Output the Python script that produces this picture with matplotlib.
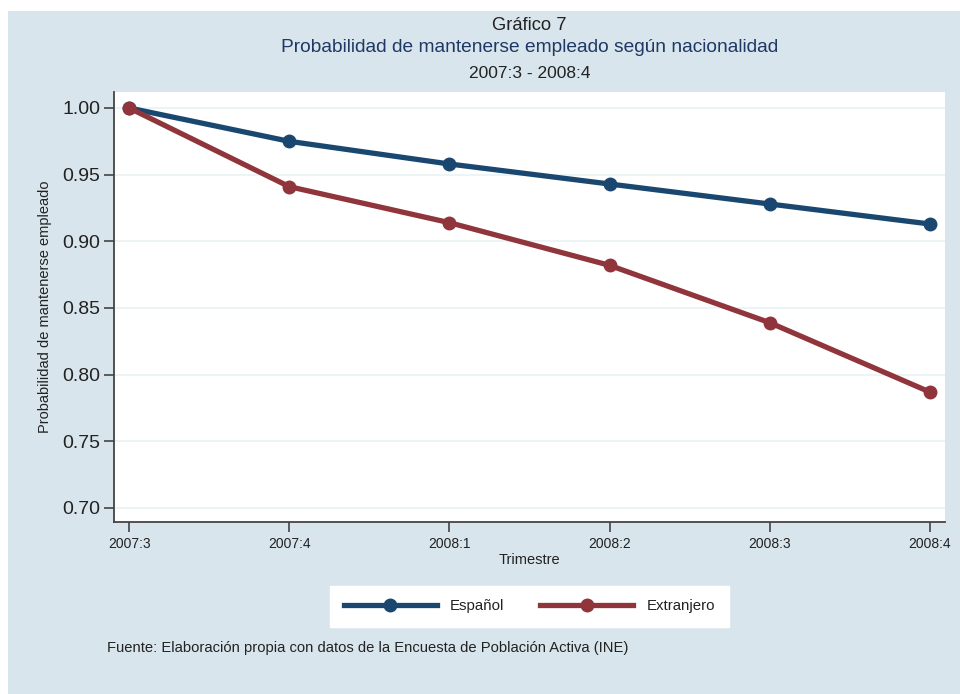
import matplotlib.pyplot as plt
from matplotlib.patches import Rectangle

# Data
trimestres = ["2007:3", "2007:4", "2008:1", "2008:2", "2008:3", "2008:4"]
espanol = [1.000, 0.975, 0.958, 0.943, 0.928, 0.913]
extranjero = [1.000, 0.941, 0.914, 0.882, 0.839, 0.787]

azul = "#1a476f"
rojo = "#90353b"
fondo = "#d9e5ec"
texto = "#222222"

plt.rcParams["font.family"] = ["Liberation Sans", "DejaVu Sans"]

fig = plt.figure(figsize=(9.6, 6.94), dpi=100)
fig.patch.set_facecolor("white")
# light blue panel (leaves a thin white margin top/left)
fig.patches.append(Rectangle((8 / 960, 0), 1, 1 - 11 / 694, transform=fig.transFigure,
                             facecolor=fondo, edgecolor="none", zorder=-10))

ax = fig.add_axes([114 / 960, 172 / 694, 831 / 960, 430 / 694])
ax.set_facecolor("white")

x = list(range(len(trimestres)))
ax.plot(x, espanol, color=azul, lw=3.8, marker="o", ms=9, label="Español", zorder=3)
ax.plot(x, extranjero, color=rojo, lw=3.8, marker="o", ms=9, label="Extranjero", zorder=4)

ax.set_xlim(-0.095, 5.095)
ax.set_ylim(0.6895, 1.012)
ax.set_yticks([0.70, 0.75, 0.80, 0.85, 0.90, 0.95, 1.00])
ax.set_yticklabels([f"{v:.2f}" for v in ax.get_yticks()])
ax.set_xticks(x)
ax.set_xticklabels(trimestres)
ax.grid(axis="y", color="#eaf2f3", lw=1.2)
ax.set_axisbelow(True)

for s in ["top", "right"]:
    ax.spines[s].set_visible(False)
for s in ["left", "bottom"]:
    ax.spines[s].set_color("#444444")
    ax.spines[s].set_linewidth(1.3)

ax.tick_params(axis="y", labelsize=14, length=7, width=1.2, color="#444444", labelcolor=texto, pad=3)
ax.tick_params(axis="x", labelsize=10, length=7, width=1.2, color="#444444", labelcolor=texto, pad=4)

ax.set_ylabel("Probabilidad de mantenerse empleado", fontsize=10.5, color=texto, labelpad=7)
ax.set_xlabel("Trimestre", fontsize=10.5, color=texto, labelpad=1)

cx = (114 + 945) / 2 / 960
fig.text(cx, 1 - 25 / 694, "Gráfico 7", ha="center", va="center", fontsize=13.2, color=texto)
fig.text(cx, 1 - 48 / 694, "Probabilidad de mantenerse empleado según nacionalidad",
         ha="center", va="center", fontsize=13.8, color="#1f3864")
fig.text(cx, 1 - 73 / 694, "2007:3 - 2008:4", ha="center", va="center", fontsize=12.5, color=texto)

leg = fig.legend(loc="center", bbox_to_anchor=(cx, 1 - 606 / 694), ncol=2, frameon=True,
                 fontsize=10.8, handlelength=6.2, columnspacing=2.4, handletextpad=0.9,
                 borderpad=0.9, borderaxespad=0, fancybox=False, edgecolor="white",
                 framealpha=1)
leg.get_frame().set_facecolor("white")
for t in leg.get_texts():
    t.set_color(texto)

fig.text(107 / 960, 1 - 648 / 694,
         "Fuente: Elaboración propia con datos de la Encuesta de Población Activa (INE)",
         ha="left", va="center", fontsize=10.6, color=texto)

fig.savefig("out.png", dpi=100)
